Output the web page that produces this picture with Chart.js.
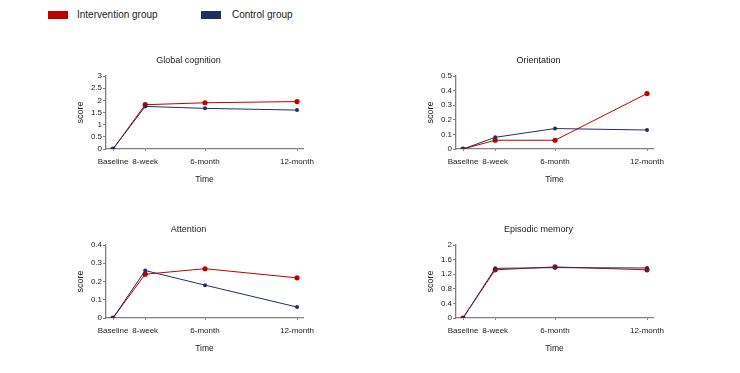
<!DOCTYPE html>
<html>
<head>
<meta charset="utf-8">
<script src="https://cdn.jsdelivr.net/npm/chart.js@4"></script>
<style>
  body { margin: 0; background: #fff; font-family: "Liberation Sans", Arial, sans-serif; }
  #wrap { position: relative; width: 740px; height: 373px; overflow: hidden; }
  canvas { position: absolute; }
  .key { position: absolute; top: 11px; width: 20px; height: 8px; }
  .keytxt { position: absolute; top: 9px; font-size: 10px; line-height: 12px; color: #222; }
</style>
</head>
<body>
<div id="wrap">
  <div class="key" style="left:48px;background:#c00000"></div>
  <div class="keytxt" style="left:77px">Intervention group</div>
  <div class="key" style="left:201px;background:#1f3060"></div>
  <div class="keytxt" style="left:232px">Control group</div>
  <canvas id="c0" width="297" height="150" style="left:40px;top:45px"></canvas>
  <canvas id="c1" width="297" height="150" style="left:390px;top:45px"></canvas>
  <canvas id="c2" width="297" height="150" style="left:40px;top:214px"></canvas>
  <canvas id="c3" width="297" height="150" style="left:390px;top:214px"></canvas>
</div>
<script>
// time points, in months since baseline (as spaced in the figure)
const timeLabels = ['Baseline', '8-week', '6-month', '12-month'];
const timeMonths = [0, 2.1, 6, 12];

const panelTitles = ['Global cognition', 'Orientation', 'Attention', 'Episodic memory'];
const yMax = [3, 0.5, 0.4, 2];
const yStep = [0.5, 0.1, 0.1, 0.4];

const interventionGlobal = [0, 1.82, 1.9, 1.95];
const controlGlobal = [0, 1.75, 1.67, 1.6];
const interventionOrient = [0, 0.06, 0.06, 0.38];
const controlOrient = [0, 0.08, 0.14, 0.13];
const interventionAttn = [0, 0.24, 0.27, 0.22];
const controlAttn = [0, 0.26, 0.18, 0.06];
const interventionEpisodic = [0, 1.32, 1.4, 1.32];
const controlEpisodic = [0, 1.36, 1.38, 1.37];

const interventionSeries = [interventionGlobal, interventionOrient, interventionAttn, interventionEpisodic];
const controlSeries = [controlGlobal, controlOrient, controlAttn, controlEpisodic];

const RED = '#c00000';
const NAVY = '#1f3060';
const AXIS = '#808080';
const FONT = '"Liberation Sans", Arial, sans-serif';

function toPoints(vals) {
  return vals.map((v, i) => ({ x: timeMonths[i], y: v }));
}

for (let p = 0; p < 4; p++) {
  new Chart(document.getElementById('c' + p), {
    type: 'line',
    data: {
      datasets: [
        {
          label: 'Control group',
          data: toPoints(controlSeries[p]),
          borderColor: NAVY,
          backgroundColor: NAVY,
          borderWidth: 1,
          pointRadius: 2,
          pointBorderWidth: 0,
        },
        {
          label: 'Intervention group',
          data: toPoints(interventionSeries[p]),
          borderColor: RED,
          backgroundColor: RED,
          borderWidth: 1,
          pointRadius: 2.6,
          pointBorderWidth: 0,
        }
      ]
    },
    options: {
      responsive: false,
      animation: false,
      // symmetric side padding keeps the panel title centred where the figure has it
      layout: { padding: { left: 34, right: 34 } },
      plugins: {
        legend: { display: false },
        tooltip: { enabled: false },
        title: {
          display: true,
          text: panelTitles[p],
          color: '#222',
          font: { family: FONT, size: 9, weight: 'normal' },
          padding: { top: 10, bottom: 10.2 }
        }
      },
      scales: {
        x: {
          type: 'linear',
          min: -0.457,
          max: 12.39,
          afterBuildTicks: s => { s.ticks = timeMonths.map(v => ({ value: v })); },
          afterFit: s => { s.height = 46; s.paddingLeft = 0; s.paddingRight = 0; },
          border: { color: AXIS, width: 1.3 },
          grid: { drawOnChartArea: false, tickLength: 2, color: AXIS },
          ticks: {
            autoSkip: false,
            maxRotation: 0,
            padding: 6,
            color: '#222',
            font: { family: FONT, size: 8 },
            callback: v => timeLabels[timeMonths.indexOf(v)]
          },
          title: {
            display: true,
            text: 'Time',
            color: '#222',
            font: { family: FONT, size: 8.5 },
            padding: { top: 0, bottom: 10.6 }
          }
        },
        y: {
          min: 0,
          max: yMax[p],
          afterFit: s => { s.width = 32; },
          border: { color: AXIS, width: 1.3 },
          grid: { drawOnChartArea: false, tickLength: 3, color: AXIS },
          ticks: {
            stepSize: yStep[p],
            autoSkip: false,
            padding: 1,
            color: '#222',
            font: { family: FONT, size: 8 },
            callback: v => String(+v.toFixed(2))
          },
          title: {
            display: true,
            text: 'score',
            color: '#222',
            font: { family: FONT, size: 9 },
            padding: { top: 1.6, bottom: 0 }
          }
        }
      }
    }
  });
}
</script>
</body>
</html>
